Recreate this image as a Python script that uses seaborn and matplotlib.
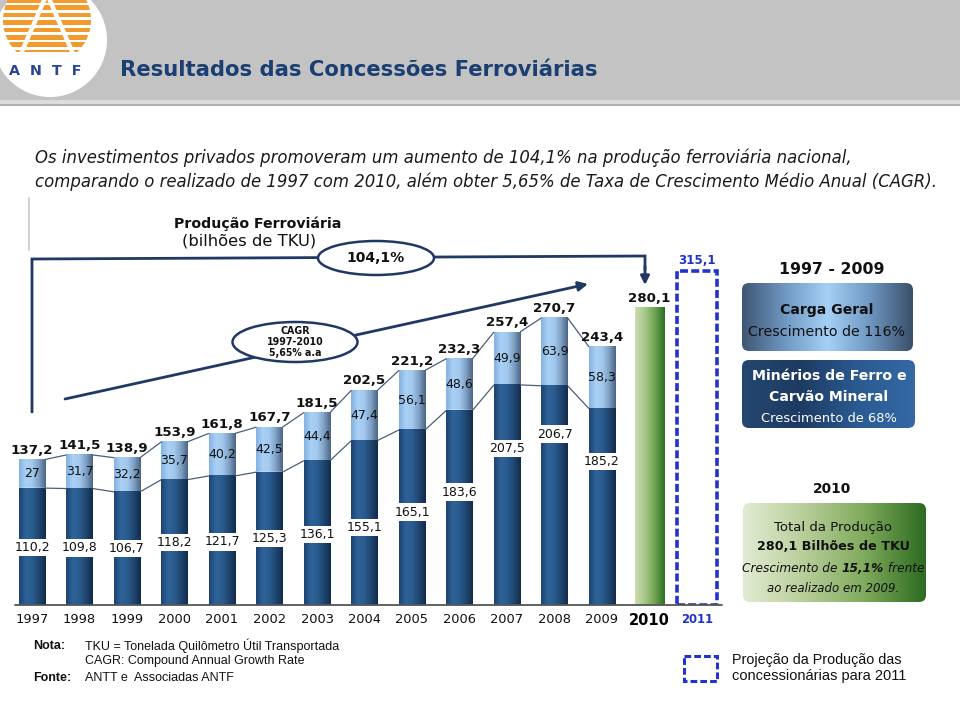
import numpy as np
import pandas as pd
import matplotlib
matplotlib.use("Agg")
import matplotlib.pyplot as plt
import seaborn as sns
from matplotlib.patches import Ellipse, FancyBboxPatch, Rectangle, Circle
from matplotlib.colors import LinearSegmentedColormap

# ---------------- data ----------------
anos = [str(a) for a in range(1997, 2012)]
anos_hist = anos[:13]
total = [137.2, 141.5, 138.9, 153.9, 161.8, 167.7, 181.5, 202.5, 221.2, 232.3, 257.4, 270.7, 243.4]
carga_geral = [27, 31.7, 32.2, 35.7, 40.2, 42.5, 44.4, 47.4, 56.1, 48.6, 49.9, 63.9, 58.3]
minerio = [110.2, 109.8, 106.7, 118.2, 121.7, 125.3, 136.1, 155.1, 165.1, 183.6, 207.5, 206.7, 185.2]
ano_real = ["2010"]
total_real = [280.1]
ano_proj = ["2011"]
total_proj = [315.1]
crescimento_periodo = "104,1%"
cagr_linhas = ["CAGR", "1997-2010", "5,65% a.a"]

titulo = "Resultados das Concessões Ferroviárias"
intro = ["Os investimentos privados promoveram um aumento de 104,1% na produção ferroviária nacional,",
         "comparando o realizado de 1997 com 2010, além obter 5,65% de Taxa de Crescimento Médio Anual (CAGR)."]

# layout only: relative height of the dark-segment labels inside each bar
frac_rotulo = [0.49, 0.49, 0.50, 0.50, 0.49, 0.50, 0.49, 0.47, 0.53, 0.58, 0.71, 0.78, 0.73]


def fmt(v):
    return str(int(v)) if float(v).is_integer() else f"{v:.1f}".replace(".", ",")


sns.set_theme(style="white")
plt.rcParams["font.family"] = ["DejaVu Sans"]

NAVY = "#1F3864"
BLUE11 = "#2233CC"

fig = plt.figure(figsize=(9.6, 7.2), dpi=100)
fig.patch.set_facecolor("white")
renderer = fig.canvas.get_renderer()

# ---------------- chart axes ----------------
ax = fig.add_axes([8.25 / 960, 115 / 720, 712.5 / 960, 350 / 720])
ax.set_autoscale_on(False)
ax.set_facecolor("none")

df = pd.DataFrame({"ano": anos_hist, "total": total, "minerio": minerio, "carga": carga_geral})
W = 0.55

n0 = len(ax.patches)
sns.barplot(data=df, x="ano", y="total", order=anos, color="#9DC3E6", width=W,
            saturation=1, errorbar=None, ax=ax, zorder=2)
n1 = len(ax.patches)
sns.barplot(data=df, x="ano", y="minerio", order=anos, color="#2B5A8C", width=W,
            saturation=1, errorbar=None, ax=ax, zorder=3)
n2 = len(ax.patches)
sns.barplot(x=ano_real, y=total_real, order=anos, color="#8DB56A", width=0.63,
            saturation=1, errorbar=None, ax=ax, zorder=3)
n3 = len(ax.patches)
sns.barplot(x=ano_proj, y=total_proj, order=anos, color=BLUE11, width=0.86, fill=False,
            saturation=1, errorbar=None, ax=ax, zorder=3)
n4 = len(ax.patches)

light_c = ["#84B1E0", "#A9D0F5", "#A2C8EE", "#7E9FC3", "#4A6485"]
dark_c = ["#1C4270", "#2E6399", "#2A5B8E", "#1F4570", "#122B4A"]
green_c = ["#CCDDB2", "#A8C78A", "#6FA350", "#2A7026"]


def shade(patches, colors, z):
    cmap = LinearSegmentedColormap.from_list("s", colors)
    for p in patches:
        h = p.get_height()
        if not np.isfinite(h) or h <= 0:
            continue
        x0, y0, w = p.get_x(), p.get_y(), p.get_width()
        ax.imshow(np.linspace(0, 1, 128).reshape(1, -1), extent=[x0, x0 + w, y0, y0 + h],
                  cmap=cmap, aspect="auto", zorder=z, interpolation="bilinear")


shade(ax.patches[n0:n1], light_c, 2.1)
shade(ax.patches[n1:n2], dark_c, 3.1)
shade(ax.patches[n2:n3], green_c, 3.1)
for p in ax.patches[n3:n4]:
    if np.isfinite(p.get_height()) and p.get_height() > 0:
        p.set_edgecolor(BLUE11)
        p.set_facecolor("none")
        p.set_linewidth(2.6)
        p.set_linestyle((0, (2.2, 0.9)))
        p.set_zorder(3)

# connecting lines between bars
for i in range(len(anos_hist) - 1):
    for serie in (total, minerio):
        ax.plot([i + W / 2, i + 1 - W / 2], [serie[i], serie[i + 1]], color="#4A5F7A",
                lw=0.9, zorder=4, solid_capstyle="butt")

# labels
for i in range(len(anos_hist)):
    ax.annotate(fmt(total[i]), (i, total[i]), xytext=(0, 2), textcoords="offset points",
                ha="center", va="bottom", fontsize=9.6, fontweight="bold", color="#111111", zorder=6)
    ax.text(i, (minerio[i] + total[i]) / 2, fmt(carga_geral[i]), ha="center", va="center",
            fontsize=9, color="#111111", zorder=6)
    ax.text(i, minerio[i] * frac_rotulo[i], fmt(minerio[i]), ha="center", va="center",
            fontsize=9, color="#111111", zorder=6,
            bbox=dict(boxstyle="square,pad=0.18", fc="white", ec="none"))
i10 = anos.index(ano_real[0])
ax.annotate(fmt(total_real[0]), (i10, total_real[0]), xytext=(0, 2), textcoords="offset points",
            ha="center", va="bottom", fontsize=9.6, fontweight="bold", color="#111111", zorder=6)
i11 = anos.index(ano_proj[0])
ax.annotate(fmt(total_proj[0]), (i11, total_proj[0]), xytext=(0, 3), textcoords="offset points",
            ha="center", va="bottom", fontsize=8.6, fontweight="bold", color=BLUE11, zorder=6)

ax.set_xlim(-0.5, len(anos) - 0.5)
ax.set_ylim(0, 330)
ax.set_xticks(range(len(anos)))
ax.set_xticklabels(anos)
ax.set_yticks([])
ax.set_xlabel("")
ax.set_ylabel("")
for s in ax.spines.values():
    s.set_visible(False)
ax.tick_params(axis="x", length=0, pad=6, labelsize=9.4, labelcolor="#111111")
for t in ax.get_xticklabels():
    if t.get_text() == ano_real[0]:
        t.set_fontweight("bold"); t.set_fontsize(10.5); t.set_color("#000000")
    elif t.get_text() == ano_proj[0]:
        t.set_fontweight("bold"); t.set_fontsize(8.4); t.set_color(BLUE11)

# ---------------- overlay (pixel coordinates) ----------------
ov = fig.add_axes([0, 0, 1, 1])
ov.set_autoscale_on(False)
ov.set_xlim(0, 960)
ov.set_ylim(720, 0)
ov.axis("off")
ov.set_zorder(2)


def fit(x, y, s, wpx, **kw):
    kw.setdefault("va", "center")
    t = ov.text(x, y, s, **kw)
    bb = t.get_window_extent(renderer)
    t.set_fontsize(t.get_fontsize() * wpx / bb.width)
    return t


# header band
ov.add_patch(Rectangle((0, 0), 960, 100, fc="#C3C3C3", ec="none", zorder=1))
ov.add_patch(Rectangle((0, 100), 960, 4, fc="#DDDDDD", ec="none", zorder=1))
ov.plot([0, 960], [105, 105], color="#AFAFAF", lw=1.5, zorder=1)

# logo
ov.add_patch(Circle((50, 40), 57, fc="white", ec="none", zorder=2))
clipc = Circle((47, 20), 44, transform=ov.transData)
for k in range(8):
    r = Rectangle((0, -2 + k * 7.4), 100, 4.6, fc="#F39A2E", ec="none", zorder=3)
    ov.add_patch(r)
    r.set_clip_path(clipc)
ov.plot([46, 20], [-4, 56], color="white", lw=3.2, zorder=3.5)
ov.plot([48, 74], [-4, 56], color="white", lw=3.2, zorder=3.5)
ov.add_patch(Rectangle((0, 52), 100, 10, fc="white", ec="none", zorder=3.4))
fit(45, 71, "A  N  T  F", 72, ha="center", fontweight="bold", color="#2B4594", zorder=4)

# title
fit(120, 70, titulo, 478, ha="left", fontweight="bold", color="#1B3F73", zorder=4)

# intro text
t2 = fit(35, 182, intro[1], 900, ha="left", style="italic", color="#1A1A1A")
ov.text(35, 158, intro[0], ha="left", va="center", style="italic", color="#1A1A1A",
        fontsize=t2.get_fontsize())

# faint left line
ov.plot([29, 29], [198, 250], color="#C8C8C8", lw=1.2, zorder=2)

# chart title
fit(258, 224, "Produção Ferroviária", 167, ha="center", fontweight="bold", color="#111111")
fit(249, 241, "(bilhões de TKU)", 134, ha="center", color="#111111")

# baseline
ov.plot([15, 722], [605, 605], color="#555555", lw=1.3, zorder=3)

# 104,1% bracket
ov.plot([32, 32, 645, 645], [412, 259, 256, 270], color=NAVY, lw=2, zorder=4,
        solid_joinstyle="miter")
ov.annotate("", xy=(645, 285), xytext=(645, 266),
            arrowprops=dict(arrowstyle="-|>", color=NAVY, lw=2, mutation_scale=13,
                            shrinkA=0, shrinkB=0), zorder=4)
ov.add_patch(Ellipse((376, 258), 116, 34, fc="white", ec=NAVY, lw=1.8, zorder=5))
fit(376, 258, crescimento_periodo, 58, ha="center", fontweight="bold", color="#111111", zorder=6)

# CAGR arrow
ov.annotate("", xy=(588, 284), xytext=(65, 399),
            arrowprops=dict(arrowstyle="-|>", color=NAVY, lw=2, mutation_scale=14,
                            shrinkA=0, shrinkB=0), zorder=4)
ov.add_patch(Ellipse((295, 342), 125, 40, fc="white", ec=NAVY, lw=1.8, zorder=5))
tc = fit(295, 342, cagr_linhas[1], 57, ha="center", fontweight="bold", color="#111111", zorder=6)
ov.text(295, 331.5, cagr_linhas[0], ha="center", va="center", fontweight="bold",
        color="#111111", fontsize=tc.get_fontsize(), zorder=6)
ov.text(295, 353, cagr_linhas[2], ha="center", va="center", fontweight="bold",
        color="#111111", fontsize=tc.get_fontsize(), zorder=6)


# right panels
def grad_box(x, y, w, h, colors, r=7, z=3):
    patch = FancyBboxPatch((x, y), w, h, boxstyle=f"round,pad=0,rounding_size={r}",
                           fc="none", ec="none", zorder=z)
    ov.add_patch(patch)
    cmap = LinearSegmentedColormap.from_list("g", colors)
    im = ov.imshow(np.linspace(0, 1, 256).reshape(1, -1), extent=[x, x + w, y + h, y],
                   cmap=cmap, aspect="auto", zorder=z, interpolation="bilinear")
    im.set_clip_path(patch)


fit(832, 270, "1997 - 2009", 105, ha="center", fontweight="bold", color="#111111")
grad_box(742, 283, 171, 68, ["#3E5673", "#6F97C2", "#A6D0F6", "#6F97C2", "#3A4F69"])
fit(827, 310, "Carga Geral", 93, ha="center", fontweight="bold", color="#111111", zorder=6)
fit(827, 332, "Crescimento de 116%", 157, ha="center", color="#111111", zorder=6)

grad_box(742, 360, 173, 68, ["#24476F", "#1D3B62", "#2A5A90", "#3469A6"])
fit(829, 376, "Minérios de Ferro e", 155, ha="center", fontweight="bold", color="white", zorder=6)
fit(829, 397, "Carvão Mineral", 119, ha="center", fontweight="bold", color="white", zorder=6)
fit(829, 418, "Crescimento de 68%", 135, ha="center", color="white", zorder=6)

fit(832, 489, "2010", 38, ha="center", fontweight="bold", color="#111111")
grad_box(743, 503, 183, 99, ["#E2EBD2", "#B8CE9A", "#7FAA5C", "#2C6B20"])
fit(833, 527, "Total da Produção", 117, ha="center", color="#111111", zorder=6)
fit(833, 546, "280,1 Bilhões de TKU", 153, ha="center", fontweight="bold", color="#111111", zorder=6)

# mixed-style line
parts = [("Crescimento de ", dict(style="italic")),
         ("15,1%", dict(style="italic", fontweight="bold")),
         (" frente", dict(style="italic"))]
tmp = [ov.text(0, 568, s, ha="left", va="center", fontsize=10, color="#111111", zorder=6, **st)
       for s, st in parts]
ws = [t.get_window_extent(renderer).width for t in tmp]
scale = 181 / sum(ws)
for t in tmp:
    t.set_fontsize(10 * scale)
ws = [t.get_window_extent(renderer).width for t in tmp]
xx = 833 - sum(ws) / 2
for t, w in zip(tmp, ws):
    t.set_x(xx)
    xx += w
fit(833, 588, "ao realizado em 2009.", 132, ha="center", style="italic", color="#111111", zorder=6)

# footer
NARROW = ["Liberation Sans Narrow", "Liberation Sans", "DejaVu Sans"]
ov.text(33, 646, "Nota:", ha="left", va="center", fontsize=9, fontweight="bold", family=NARROW, color="#111111")
ov.text(85, 646, "TKU = Tonelada Quilômetro Útil Transportada", ha="left", va="center", fontsize=9,
        family=NARROW, color="#111111")
ov.text(85, 661, "CAGR: Compound Annual Growth Rate", ha="left", va="center", fontsize=9,
        family=NARROW, color="#111111")
ov.text(33, 678, "Fonte:", ha="left", va="center", fontsize=9, fontweight="bold", family=NARROW, color="#111111")
ov.text(85, 678, "ANTT e  Associadas ANTF", ha="left", va="center", fontsize=9,
        family=NARROW, color="#111111")

ov.add_patch(Rectangle((684, 656), 33, 25, fc="none", ec=BLUE11, lw=2.2,
                       linestyle=(0, (2.2, 1.0)), zorder=4))
fit(732, 660, "Projeção da Produção das", 171, ha="left", family=["Liberation Sans", "DejaVu Sans"],
    color="#111111")
fit(732, 676, "concessionárias para 2011", 174, ha="left", family=["Liberation Sans", "DejaVu Sans"],
    color="#111111")

ov.set_xlim(0, 960)
ov.set_ylim(720, 0)
ax.set_xlim(-0.5, len(anos) - 0.5)
ax.set_ylim(0, 330)

fig.savefig("out.png", dpi=100, facecolor="white")
